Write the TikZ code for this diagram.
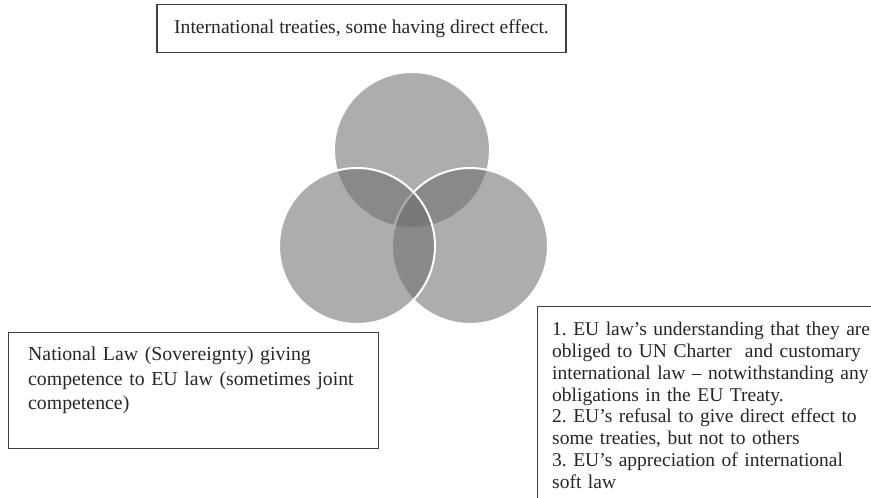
\documentclass[tikz,border=0pt]{standalone}
\usepackage{fontspec}
\setmainfont{Liberation Serif}
\frenchspacing
\begin{document}
\begin{tikzpicture}[x=1pt,y=-1pt,
  box/.style={draw=black!75, line width=1.4pt, inner sep=0pt},
  txt/.style={inner sep=0pt, align=left, text width=#1, text=black!85},
  venn/.style={circle, minimum size=156pt, inner sep=0pt, draw=white, line width=2pt, fill=black!57, fill opacity=0.57}]
\path[use as bounding box, clip] (0,0) rectangle (871,498);
% circles
\node[venn] (ctop) at (412,150) {};
\node[venn] (cright) at (470,246) {};
\node[venn] (cleft) at (357,246) {};
% top box
\node[box, minimum width=409pt, minimum height=48pt, text=black!85, font=\fontsize{19.6}{22}\selectfont] (topbox) at (361.5,28.5) {International treaties, some having direct effect.};
% left box
\node[box, anchor=north west, minimum width=370pt, minimum height=116pt] (natbox) at (8,332) {};
\node[txt=340pt, anchor=north west, font=\fontsize{19.8}{24.5}\selectfont] (nattext) at (28,347)
  {National Law (Sovereignty) giving\\competence to EU law (sometimes joint\\competence)};
% right box
\node[box, anchor=north west, minimum width=400pt, minimum height=250pt] (eubox) at (537,306) {};
\node[txt=318pt, anchor=north west, font=\fontsize{19.5}{21.8}\selectfont] (eutext) at (552,322)
  {1. EU law’s understanding that they are\\obliged to UN Charter\ \ and customary\\international law – notwithstanding any\\obligations in the EU Treaty.\\2. EU’s refusal to give direct effect to\\some treaties, but not to others\\3. EU’s appreciation of international\\soft law};
\end{tikzpicture}
\end{document}
